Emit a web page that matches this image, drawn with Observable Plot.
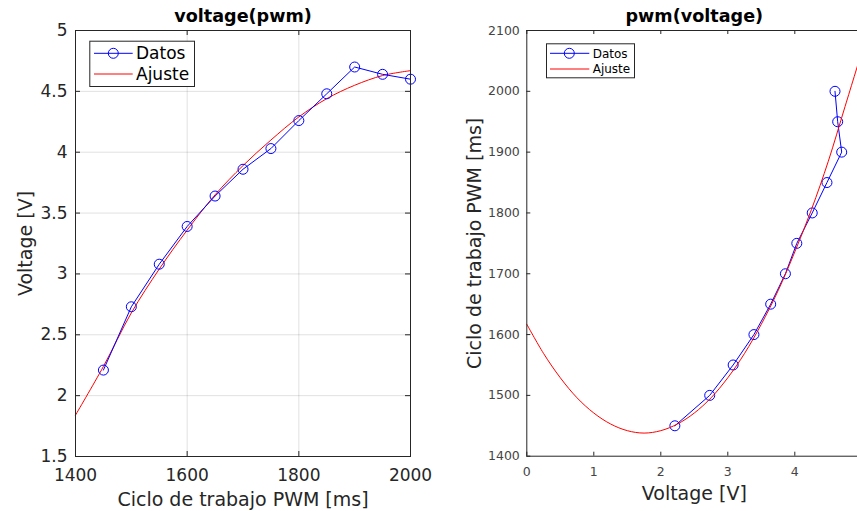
<!DOCTYPE html>
<html>
<head>
<meta charset="utf-8">
<script src="https://cdn.jsdelivr.net/npm/d3@7"></script>
<script src="https://cdn.jsdelivr.net/npm/@observablehq/plot@0.6"></script>
<style>
  html, body { margin: 0; padding: 0; overflow: hidden; background: white; }
  #wrap { position: relative; width: 857px; height: 511px; overflow: hidden; background: white; }
  #left { position: absolute; left: 0; top: 0; width: 430px; z-index: 2; }
  #right { position: absolute; left: 430px; top: 0; width: 440px; z-index: 1; }
  svg { max-width: none !important; overflow: visible; }
</style>
</head>
<body>
<div id="wrap"><div id="left"></div><div id="right"></div></div>
<script>
// ---- data ----
const pwm = [1450, 1500, 1550, 1600, 1650, 1700, 1750, 1800, 1850, 1900, 1950, 2000];
const voltage = [2.21, 2.73, 3.08, 3.39, 3.64, 3.86, 4.03, 4.26, 4.48, 4.70, 4.64, 4.60];

// fitted curve voltage(pwm)
const fitPwm = [1400, 1450, 1500, 1550, 1600, 1650, 1700, 1750, 1800, 1850, 1900, 1950, 2000];
const fitVolt = [1.84, 2.24, 2.68, 3.04, 3.36, 3.65, 3.89, 4.10, 4.29, 4.44, 4.55, 4.63, 4.67];

// fitted curve pwm(voltage)
const fitV = [0, 0.25, 0.5, 0.75, 1, 1.25, 1.5, 1.75, 2, 2.25, 2.5, 2.75, 3, 3.25, 3.5, 3.75, 4, 4.25, 4.5, 4.75, 5];
const fitP = [1617, 1569, 1529, 1496, 1471, 1453, 1442, 1438, 1442, 1453, 1471, 1496, 1529, 1569, 1617, 1672, 1736, 1806, 1885, 1975, 2065];

// ticks
const xTicksL = [1400, 1600, 1800, 2000];
const yTicksL = [1.5, 2, 2.5, 3, 3.5, 4, 4.5, 5];
const xTicksR = [0, 1, 2, 3, 4, 5];
const xLabelsR = [0, 1, 2, 3, 4];
const yTicksR = [1400, 1500, 1600, 1700, 1800, 1900, 2000, 2100];

const titles = ["voltage(pwm)", "pwm(voltage)"];
const labPwm = "Ciclo de trabajo PWM [ms]";
const labVolt = "Voltage [V]";
const legendNames = ["Datos", "Ajuste"];

const data = pwm.map((p, i) => ({pwm: p, volt: voltage[i]}));
const fitL = fitPwm.map((p, i) => ({pwm: p, volt: fitVolt[i]}));
const fitR = fitV.map((v, i) => ({volt: v, pwm: fitP[i]}));

const AX = "#262626";
const FONT = "DejaVu Sans";
const fmt = d => String(d);

function innerTicks(xt, yt, fw, fh, len) {
  return [
    Plot.tickX(xt, {x: d => d, insetTop: fh - len, stroke: AX}),
    Plot.tickX(xt, {x: d => d, insetBottom: fh - len, stroke: AX}),
    Plot.tickY(yt, {y: d => d, insetRight: fw - len, stroke: AX}),
    Plot.tickY(yt, {y: d => d, insetLeft: fw - len, stroke: AX})
  ];
}

function addLegend(svg, o) {
  const g = svg.append("g");
  g.append("rect").attr("x", o.x0 + 0.5).attr("y", o.y0 + 0.5)
    .attr("width", o.x1 - o.x0).attr("height", o.y1 - o.y0)
    .attr("fill", "white").attr("stroke", AX).attr("stroke-width", 1);
  const colors = ["#0000ff", "#ff0000"];
  legendNames.forEach((name, i) => {
    const y = o.ys[i];
    g.append("line").attr("x1", o.lx0).attr("x2", o.lx1).attr("y1", y).attr("y2", y)
      .attr("stroke", colors[i]).attr("stroke-width", 1);
    if (i === 0) {
      g.append("circle").attr("cx", o.mx).attr("cy", y).attr("r", o.r)
        .attr("fill", "none").attr("stroke", colors[i]).attr("stroke-width", 1);
    }
    g.append("text").attr("x", o.tx).attr("y", y).attr("dy", "0.35em")
      .attr("text-anchor", "start")
      .attr("font-family", FONT).attr("font-size", o.fs).attr("fill", "#000").text(name);
  });
}

// ---- left chart ----
{
  const W = 430, H = 511, mL = 75, mR = 20, mT = 30, mB = 55;
  const fw = W - mL - mR, fh = H - mT - mB;
  const chart = Plot.plot({
    width: W, height: H,
    marginLeft: mL, marginRight: mR, marginTop: mT, marginBottom: mB,
    style: {fontFamily: FONT, background: "white", color: AX, maxWidth: "none", overflow: "visible"},
    x: {domain: [1400, 2000]},
    y: {domain: [1.5, 5]},
    marks: [
      Plot.gridX(xTicksL, {stroke: "#000", strokeOpacity: 0.12}),
      Plot.gridY(yTicksL, {stroke: "#000", strokeOpacity: 0.12}),
      Plot.line(fitL, {x: "pwm", y: "volt", stroke: "#ff0000", strokeWidth: 1, curve: "catmull-rom"}),
      Plot.line(data, {x: "pwm", y: "volt", stroke: "#0000ff", strokeWidth: 1}),
      Plot.dot(data, {x: "pwm", y: "volt", r: 5, stroke: "#0000ff", strokeWidth: 1, fill: "none"}),
      Plot.frame({stroke: AX}),
      ...innerTicks(xTicksL, yTicksL, fw, fh, 5),
      Plot.axisX(xTicksL, {tickSize: 0, tickPadding: 12, fontSize: 17, label: null, tickFormat: fmt}),
      Plot.axisY(yTicksL, {tickSize: 0, tickPadding: 8, fontSize: 17, label: null, tickFormat: fmt}),
      Plot.text([labPwm], {text: d => d, frameAnchor: "bottom", lineAnchor: "middle", textAnchor: "middle", dy: 43, fontSize: 19, fill: AX}),
      Plot.text([labVolt], {text: d => d, frameAnchor: "left", lineAnchor: "middle", textAnchor: "middle", dx: -50, rotate: -90, fontSize: 19, fill: AX}),
      Plot.text([titles[0]], {text: d => d, frameAnchor: "top", lineAnchor: "middle", textAnchor: "middle", dy: -14, fontSize: 17.6, fontWeight: "bold", fill: "#000"})
    ]
  });
  document.getElementById("left").appendChild(chart);
  addLegend(d3.select(chart), {x0: 89.3, y0: 40.7, x1: 194, y1: 86, lx0: 94, lx1: 132.7, mx: 113.3, tx: 136, ys: [53.3, 74], fs: 17, r: 5});
}

// ---- right chart ----
{
  const W = 440, H = 511, mL = 96.3, mR = 8.7, mT = 30, mB = 55.3;
  const fw = W - mL - mR, fh = H - mT - mB;
  const chart = Plot.plot({
    width: W, height: H,
    marginLeft: mL, marginRight: mR, marginTop: mT, marginBottom: mB,
    style: {fontFamily: FONT, background: "none", color: AX, maxWidth: "none"},
    x: {domain: [0, 5]},
    y: {domain: [1400, 2100]},
    marks: [
      Plot.line(data, {x: "volt", y: "pwm", stroke: "#0000ff", strokeWidth: 1}),
      Plot.dot(data, {x: "volt", y: "pwm", r: 5, stroke: "#0000ff", strokeWidth: 1, fill: "none"}),
      Plot.line(fitR, {x: "volt", y: "pwm", stroke: "#ff0000", strokeWidth: 1, curve: "catmull-rom"}),
      Plot.frame({stroke: AX}),
      ...innerTicks(xTicksR, yTicksR, fw, fh, 4),
      Plot.axisX(xLabelsR, {tickSize: 0, tickPadding: 11, fontSize: 12.5, label: null, fill: "#444", tickFormat: fmt}),
      Plot.axisY(yTicksR, {tickSize: 0, tickPadding: 7, fontSize: 12.5, label: null, fill: "#444", tickFormat: fmt}),
      Plot.text([labVolt], {text: d => d, frameAnchor: "bottom", lineAnchor: "middle", textAnchor: "middle", dy: 37.5, fontSize: 19, fill: AX}),
      Plot.text([labPwm], {text: d => d, frameAnchor: "left", lineAnchor: "middle", textAnchor: "middle", dx: -52, rotate: -90, fontSize: 19, fill: AX}),
      Plot.text([titles[1]], {text: d => d, frameAnchor: "top", lineAnchor: "middle", textAnchor: "middle", dy: -14, fontSize: 17.6, fontWeight: "bold", fill: "#000"})
    ]
  });
  document.getElementById("right").appendChild(chart);
  addLegend(d3.select(chart), {x0: 116, y0: 43.3, x1: 204, y1: 77.3, lx0: 120, lx1: 159.3, mx: 139.3, tx: 162.7, ys: [53.3, 69], fs: 12, r: 5});
}
</script>
</body>
</html>
